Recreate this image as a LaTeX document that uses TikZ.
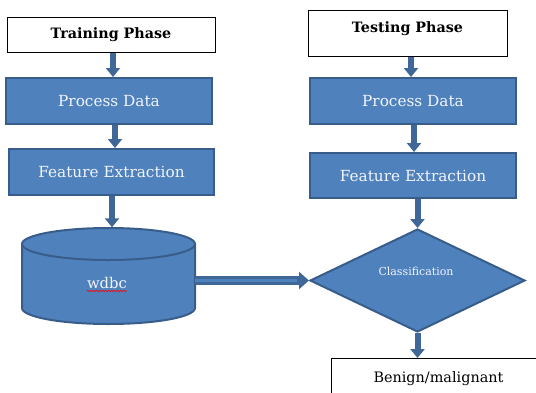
\documentclass[tikz,border=0pt]{standalone}
\usepackage{fontspec}
\setmainfont{DejaVu Serif}
\usetikzlibrary{arrows.meta,shapes.geometric,decorations.pathmorphing}
\definecolor{boxfill}{HTML}{4F81BD}
\definecolor{boxline}{HTML}{385D8A}
\definecolor{arrcol}{HTML}{3F6797}
\definecolor{txtw}{HTML}{F2F5FA}
\tikzset{
  title/.style={draw=black, line width=1pt, fill=white, inner sep=0pt, font=\bfseries\fontsize{14.3}{16}\selectfont},
  bluebox/.style={draw=boxline, line width=2pt, fill=boxfill, inner sep=0pt, text=txtw, font=\fontsize{15.3}{17}\selectfont},
  arr/.style={draw=arrcol, line width=6pt, -{Triangle[width=14pt,length=9pt]}},
  harr/.style={draw=arrcol, line width=9pt, -{Triangle[width=17pt,length=10pt]}},
}
\begin{document}
\begin{tikzpicture}[x=1pt,y=-1pt]
\useasboundingbox (0,0) rectangle (536,392);
\clip (0,0) rectangle (536,392);
% left column
\node[title, minimum width=208pt, minimum height=35pt] (train) at (111,34.5) {Training Phase};
\node[bluebox, minimum width=206pt, minimum height=46pt] (pd1) at (109,101) {Process Data};
\node[bluebox, minimum width=205pt, minimum height=46pt] (fe1) at (111.5,172) {Feature Extraction};
% cylinder
\draw[boxline, line width=2pt, fill=boxfill] (22,244) -- (22,308)
   arc[start angle=180, end angle=360, x radius=86.5pt, y radius=16pt] -- (195,244)
   arc[start angle=0, end angle=180, x radius=86.5pt, y radius=16pt] -- cycle;
\draw[boxline, line width=2pt] (22,244) arc[start angle=180, end angle=360, x radius=86.5pt, y radius=16pt];
\node[minimum width=173pt, minimum height=97pt, inner sep=0pt] (db) at (108.5,276) {};
\node[text=txtw, font=\fontsize{14.8}{17}\selectfont, inner sep=0pt] (dbl) at (107,283) {wdbc};
\draw[red, line width=0.6pt, decorate, decoration={snake, amplitude=0.7pt, segment length=3pt}] (dbl.south west) ++(0,2) coordinate (ul1) -- (dbl.south east |- ul1);
% right column
\node[title, minimum width=199pt, minimum height=46pt, text depth=12pt] (test) at (407.5,33) {Testing Phase};
\node[bluebox, minimum width=206pt, minimum height=46pt] (pd2) at (413,101) {Process Data};
\node[bluebox, minimum width=206pt, minimum height=45pt] (fe2) at (413,175.5) {Feature Extraction};
\node[diamond, draw=boxline, line width=2pt, fill=boxfill, inner sep=0pt, minimum width=215pt, minimum height=103pt] (dia) at (417.5,280.5) {};
\node[text=txtw, font=\fontsize{11}{13}\selectfont, inner sep=0pt] (cls) at (416,271) {Classification};
\node[draw=black, line width=1pt, fill=white, anchor=north west, inner xsep=42pt, inner ysep=0pt, text width=160pt, minimum height=40pt, align=left, font=\fontsize{14.4}{16}\selectfont] (ben) at (331,358) {Benign/malignant};
% arrows
\draw[arr] (train.south -| 113,0) -- (pd1.north -| 113,0);
\draw[arr] (pd1.south -| 115,0) -- (fe1.north -| 115,0);
\draw[arr] (fe1.south -| 112,0) -- (db.north -| 112,0);
\draw[arr] (test.south -| 411,0) -- (pd2.north -| 411,0);
\draw[arr] (pd2.south -| 414,0) -- (fe2.north -| 414,0);
\draw[arr] (fe2.south -| dia.north) -- (dia.north);
\draw[arr] (dia.south) -- (ben.north -| dia.south);
\draw[harr] (db.east |- dia.west) -- (dia.west);
\draw[boxfill, line width=2.5pt] (db.east |- dia.west) -- ([xshift=-12pt]dia.west);
\end{tikzpicture}
\end{document}
